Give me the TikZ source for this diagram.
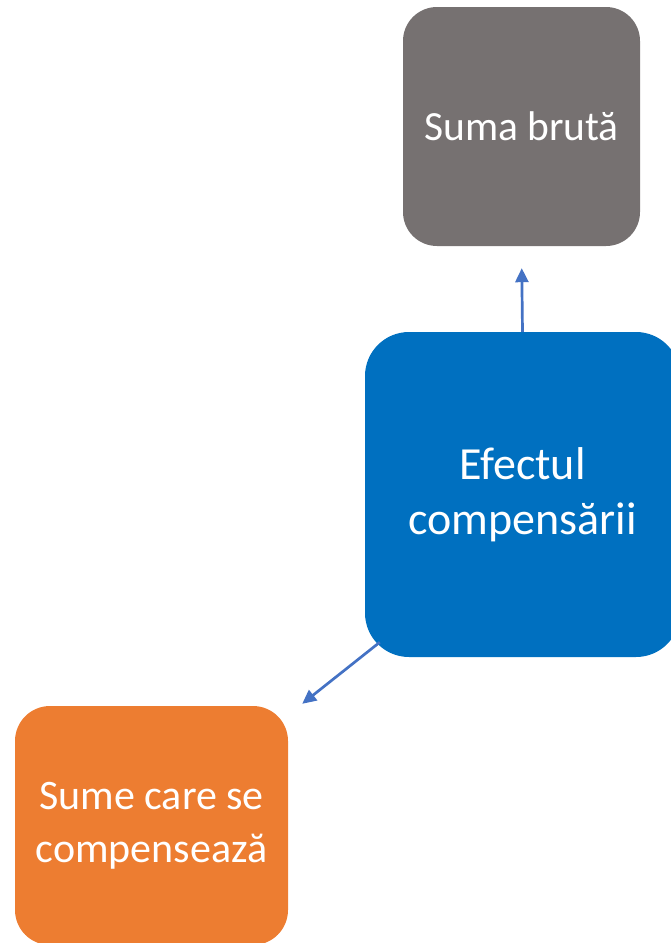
\documentclass[tikz,border=0pt]{standalone}
\usepackage{fontspec}
\setmainfont{Carlito}
\usetikzlibrary{arrows.meta,calc}
\definecolor{boxgray}{HTML}{767171}
\definecolor{boxblue}{HTML}{0070C0}
\definecolor{boxorange}{HTML}{ED7D31}
\definecolor{arrowblue}{HTML}{4472C4}
\tikzset{
  card/.style={rectangle, inner sep=0pt, text=white, align=center},
  conn/.style={draw=arrowblue, line width=2.7pt, -{Triangle[length=14pt,width=13pt]}}
}
\begin{document}
\begin{tikzpicture}[x=1pt,y=-1pt]
\useasboundingbox (0,0) rectangle (671,943);
\clip (0,0) rectangle (671,943);
\node[card, fill=boxgray, rounded corners=34pt, minimum width=237pt, minimum height=239pt,
  font=\fontsize{41.5}{53}\selectfont] (gray) at (521.5,126.5) {Suma brută};
\node[card, fill=boxblue, rounded corners=44pt, minimum width=315pt, minimum height=325pt,
  font=\fontsize{46}{55}\selectfont] (blue) at (522.5,494.5) {Efectul\\compensării};
\node[card, fill=boxorange, rounded corners=35pt, minimum width=273pt, minimum height=239pt,
  font=\fontsize{42}{53}\selectfont] (orange) at (151.5,825.5) {Sume care se\\compensează};
\draw[conn, shorten >=22pt] (blue.north) -- (gray.south);
\draw[conn] ($(blue.south west)+(15,-15)$) -- ($(orange.north east)+(14,-2)$);
\end{tikzpicture}
\end{document}
